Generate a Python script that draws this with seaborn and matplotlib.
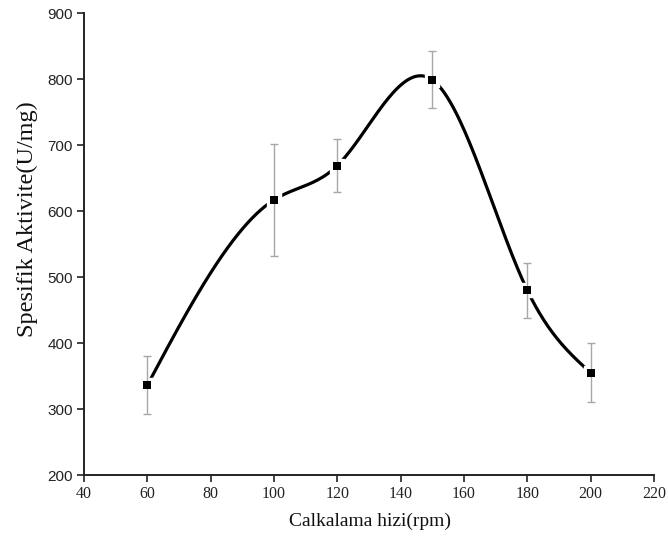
import numpy as np
import pandas as pd
import matplotlib
matplotlib.use("Agg")
import matplotlib.pyplot as plt
import seaborn as sns

rpm = [60, 100, 120, 150, 180, 200]
activity = [336, 617, 669, 799, 480, 355]
error = [44, 85, 40, 43, 42, 45]

x_ticks = [40, 60, 80, 100, 120, 140, 160, 180, 200, 220]
y_ticks = [200, 300, 400, 500, 600, 700, 800, 900]

df = pd.DataFrame({"rpm": rpm, "activity": activity, "error": error})


def natural_spline(x, y, n=400):
    x = np.asarray(x, float)
    y = np.asarray(y, float)
    k = len(x)
    h = np.diff(x)
    A = np.zeros((k, k))
    b = np.zeros(k)
    A[0, 0] = 1
    A[-1, -1] = 1
    for i in range(1, k - 1):
        A[i, i - 1] = h[i - 1]
        A[i, i] = 2 * (h[i - 1] + h[i])
        A[i, i + 1] = h[i]
        b[i] = 6 * ((y[i + 1] - y[i]) / h[i] - (y[i] - y[i - 1]) / h[i - 1])
    M = np.linalg.solve(A, b)
    xs = np.linspace(x[0], x[-1], n)
    ys = np.empty_like(xs)
    for j, xv in enumerate(xs):
        i = min(np.searchsorted(x, xv, side="right") - 1, k - 2)
        t1 = x[i + 1] - xv
        t2 = xv - x[i]
        ys[j] = (M[i] * t1 ** 3 / (6 * h[i]) + M[i + 1] * t2 ** 3 / (6 * h[i])
                 + (y[i] / h[i] - M[i] * h[i] / 6) * t1
                 + (y[i + 1] / h[i] - M[i + 1] * h[i] / 6) * t2)
    return xs, ys


sns.set_theme(style="white")
plt.rcParams["font.family"] = ["Liberation Serif", "DejaVu Serif"]

fig = plt.figure(figsize=(6.68, 5.44), dpi=100)
ax = fig.add_axes([0.1257, 0.1268, 0.8533, 0.849])

xs, ys = natural_spline(df["rpm"], df["activity"])
sns.lineplot(x=xs, y=ys, ax=ax, color="black", linewidth=2.3, zorder=2)

# white knockouts around markers (gap in curve)
ax.plot(df["rpm"], df["activity"], linestyle="none", marker="s", markersize=10,
        color="white", zorder=3)
ax.errorbar(df["rpm"], df["activity"], yerr=df["error"], fmt="none",
            ecolor="#a8a8a8", elinewidth=1.0, capsize=2.8, capthick=1.0, zorder=4)
sns.scatterplot(data=df, x="rpm", y="activity", ax=ax, marker="s", s=36,
                color="black", edgecolor="black", linewidth=0, zorder=5)

ax.set_xlim(40, 220)
ax.set_ylim(200, 900)
ax.set_xticks(x_ticks)
ax.set_yticks(y_ticks)
ax.set_xticklabels([str(v) for v in x_ticks], fontsize=11.5,
                   family=["Liberation Serif"])
ax.set_yticklabels([str(v) for v in y_ticks], fontsize=11,
                   family=["Liberation Sans"])
ax.set_xlabel("Calkalama hizi(rpm)", fontsize=14, color="#111111")
ax.set_ylabel("Spesifik Aktivite(U/mg)", fontsize=17.5, color="#111111")
ax.xaxis.set_label_coords(0.502, -0.082)
ax.yaxis.set_label_coords(-0.081, 0.555)

for s in ["top", "right"]:
    ax.spines[s].set_visible(False)
for s in ["left", "bottom"]:
    ax.spines[s].set_color("#222222")
    ax.spines[s].set_linewidth(1.4)
ax.tick_params(axis="both", direction="out", length=5, width=1.2,
               color="#222222", bottom=True, left=True, labelcolor="#222222",
               pad=3)
ax.grid(False)

fig.savefig("out.png", dpi=100)
